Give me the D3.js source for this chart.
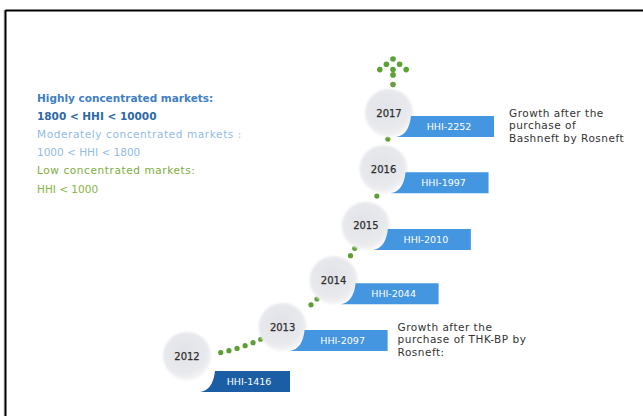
<!DOCTYPE html>
<html>
<head>
<meta charset="utf-8">
<script src="https://cdn.jsdelivr.net/npm/d3@7"></script>
<style>
  html, body { margin: 0; padding: 0; background: #fff; }
  svg { display: block; }
  text { font-family: "DejaVu Sans", Verdana, sans-serif; }
</style>
</head>
<body>
<svg id="chart" width="643" height="416"></svg>
<script>
// Herfindahl–Hirschman index of the Russian oil market by year
const years = [2012, 2013, 2014, 2015, 2016, 2017];
const hhi = [1416, 2097, 2044, 2010, 1997, 2252];
const hhiLabels = hhi.map(v => "HHI-" + v);

// Concentration thresholds legend
const legendLines = [
  "Highly concentrated markets:",
  "1800 < HHI < 10000",
  "Moderately concentrated markets :",
  "1000 < HHI < 1800",
  "Low concentrated markets:",
  "HHI < 1000"
];
const legendColors = ["#3f7fc2", "#2d68a8", "#93bbe6", "#93bbe6", "#7dae3e", "#86b548"];

// Event notes attached to particular years
const noteYears = [2017, 2013];
const noteLines = [
  ["Growth after the", "purchase of", "Bashneft by Rosneft"],
  ["Growth after the", "purchase of THK-BP by", "Rosneft:"]
];

const svg = d3.select("#chart");

// frame
svg.append("line").attr("x1", 4).attr("x2", 4).attr("y1", 10).attr("y2", 416)
  .attr("stroke", "#cfcfcf").attr("stroke-width", 1);
svg.append("line").attr("x1", 5.5).attr("x2", 643).attr("y1", 10.5).attr("y2", 10.5)
  .attr("stroke", "#000").attr("stroke-width", 2);
svg.append("line").attr("x1", 5.5).attr("x2", 5.5).attr("y1", 10).attr("y2", 416)
  .attr("stroke", "#000").attr("stroke-width", 2);

// the years climb along a quarter ellipse, easing towards the top
const arc = { cx: 187, cy: 113, rx: 202, ry: 243 };
const angle = d3.scalePow().exponent(0.72)
  .domain([0, years.length - 1])
  .range([Math.PI / 2, 0]);
const px = t => arc.cx + arc.rx * Math.cos(t);
const py = t => arc.cy + arc.ry * Math.sin(t);

const nodes = years.map((year, i) => ({
  year, value: hhi[i], label: hhiLabels[i], i,
  t: angle(i), x: px(angle(i)), y: py(angle(i))
}));

const defs = svg.append("defs");
const grad = defs.append("radialGradient").attr("id", "bubble")
  .attr("cx", "45%").attr("cy", "40%").attr("r", "60%");
grad.append("stop").attr("offset", "0%").attr("stop-color", "#e2e3e8");
grad.append("stop").attr("offset", "75%").attr("stop-color", "#e8e9ed");
grad.append("stop").attr("offset", "100%").attr("stop-color", "#f4f4f6");
defs.append("filter").attr("id", "soft")
  .append("feGaussianBlur").attr("stdDeviation", 1.2);

const R = 24;

// green stepping-stone dots filling the gaps between consecutive year circles
const dotGap = 8.5;
const dots = [];
for (let i = 0; i < nodes.length - 1; i++) {
  const a = nodes[i], b = nodes[i + 1];
  const samples = d3.range(0, 1.0001, 0.002).map(f => {
    const t = a.t + (b.t - a.t) * f;
    return { x: px(t), y: py(t) };
  });
  const free = samples.filter(p =>
    Math.hypot(p.x - a.x, p.y - a.y) > R + 5 &&
    Math.hypot(p.x - b.x, p.y - b.y) > R + 1);
  if (!free.length) continue;
  let acc = 0; const cum = [0];
  for (let k = 1; k < free.length; k++) {
    acc += Math.hypot(free[k].x - free[k-1].x, free[k].y - free[k-1].y);
    cum.push(acc);
  }
  const len = acc;
  const n = Math.max(1, Math.floor(len / dotGap) + 1);
  // place dots evenly along the free stretch, anchored at its far end
  for (let j = 0; j < n; j++) {
    const target = n === 1 ? len / 2 : len - j * dotGap;
    const k = d3.bisectLeft(cum, target);
    dots.push(free[Math.min(k, free.length - 1)]);
  }
}
svg.append("g").selectAll("circle").data(dots).join("circle")
  .attr("cx", d => d.x).attr("cy", d => d.y).attr("r", 2.6)
  .attr("fill", "#5f9e34");

// arrow of dots above the last year
const last = nodes[nodes.length - 1];
const arrowPattern = [[0, 0], [-1, 1], [1, 1], [-2, 2], [0, 2], [2, 2], [0, 3], [0, 4.8]];
const step = { x: 6.6, y: 5.3 };
const arrowTop = last.y - R - 30;
svg.append("g").selectAll("circle").data(arrowPattern).join("circle")
  .attr("cx", d => last.x + 4 + d[0] * step.x)
  .attr("cy", d => arrowTop + d[1] * step.y)
  .attr("r", 2.8)
  .attr("fill", (d, i) => i === arrowPattern.length - 1 ? "#6a9a45" : "#5aa332");

// year circles
const g = svg.append("g").selectAll("g").data(nodes).join("g");
g.append("circle")
  .attr("cx", d => d.x).attr("cy", d => d.y).attr("r", R)
  .attr("fill", "url(#bubble)").attr("filter", "url(#soft)");

// value tabs tucked under each circle
const tabW = i => i === 0 ? 90 : 98;
const tabH = 21;
const tabBox = d => {
  const x0 = d.i === 0 ? d.x + 13 : d.x + 7;
  const top = d.i === 0 ? d.y + 15 : d.y + 3;
  return { x0, top, x1: x0 + tabW(d.i), bottom: top + tabH };
};
g.append("path")
  .attr("d", d => {
    const b = tabBox(d);
    const p = d3.path();
    p.moveTo(b.x0 + 15, b.top);
    p.lineTo(b.x1, b.top);
    p.lineTo(b.x1, b.bottom);
    p.lineTo(b.x0, b.bottom);
    p.quadraticCurveTo(b.x0 + 13, b.bottom - 2, b.x0 + 15, b.top);
    p.closePath();
    return p.toString();
  })
  .attr("fill", d => d.i === 0 ? "#1c5ea6" : "#4596e0");
g.append("text")
  .attr("x", d => { const b = tabBox(d); return (b.x0 + b.x1) / 2 + 4; })
  .attr("y", d => { const b = tabBox(d); return (b.top + b.bottom) / 2; })
  .attr("dy", "0.35em").attr("text-anchor", "middle")
  .attr("font-size", 9.5).attr("fill", "#fff")
  .text(d => d.label);

g.append("text")
  .attr("x", d => d.x).attr("y", d => d.y)
  .attr("dy", "0.35em").attr("text-anchor", "middle")
  .attr("font-size", 10).attr("fill", "#2e2e2e")
  .attr("stroke", "#2e2e2e").attr("stroke-width", 0.25)
  .text(d => d.year);

// notes
noteYears.forEach((yr, k) => {
  const d = nodes[years.indexOf(yr)];
  const b = tabBox(d);
  const nx = b.x1 + (k === 0 ? 15 : 10);
  svg.append("text")
    .attr("x", nx).attr("y", d.y)
    .attr("font-size", 10.5).attr("letter-spacing", 0.5).attr("fill", "#333")
    .selectAll("tspan").data(noteLines[k]).join("tspan")
    .attr("x", nx)
    .attr("dy", (l, j) => j === 0 ? "0.35em" : "1.2em")
    .text(l => l);
});

// legend: headings in words, thresholds beneath each
const legendY = d3.scalePoint().domain(d3.range(legendLines.length)).range([98, 189]);
svg.append("g").selectAll("text").data(legendLines).join("text")
  .attr("x", 37).attr("y", (d, i) => legendY(i)).attr("dy", "0.35em")
  .attr("font-size", 10.5)
  .attr("letter-spacing", (d, i) => (i === 2 || i === 4) ? 0.6 : 0)
  .attr("font-weight", (d, i) => i < 2 ? "bold" : "normal")
  .attr("fill", (d, i) => legendColors[i])
  .text(d => d);
</script>
</body>
</html>
